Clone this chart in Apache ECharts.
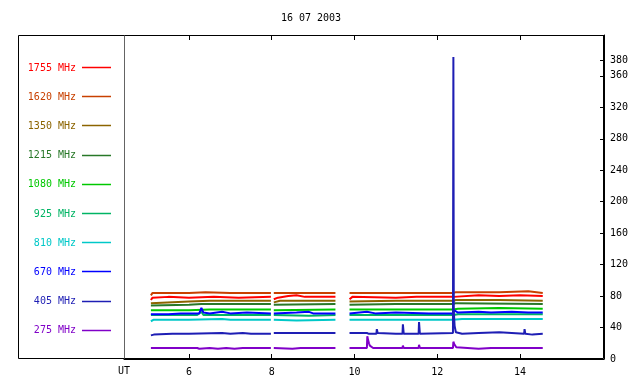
<!DOCTYPE html>
<html>
<head>
<meta charset="utf-8">
<script src="https://cdn.jsdelivr.net/npm/echarts@6/dist/echarts.min.js"></script>
<style>
  html, body { margin: 0; padding: 0; background: #fff; }
  #chart { width: 640px; height: 384px; }
</style>
</head>
<body>
<div id="chart"></div>
<script>
// frequencies, top of legend first
var freqNames = ['1755 MHz', '1620 MHz', '1350 MHz', '1215 MHz', '1080 MHz', '925 MHz', '810 MHz', '670 MHz', '405 MHz', '275 MHz'];
var freqColors = ['#ff0000', '#c84000', '#8c6400', '#287828', '#00c800', '#00b464', '#00c8c8', '#0000ff', '#1e1eb4', '#8000c8'];

var xTicks = [6, 8, 10, 12, 14];
var yTicks = [0, 40, 80, 120, 160, 200, 240, 280, 320, 360, 380];

// [UT hour, flux]; '-' marks data gaps
var f1755 = [[5.08,75],[5.12,78],[5.5,79],[6.0,78],[6.6,79],[7.2,78],[7.98,79],[8.0,'-'],[8.05,76],[8.15,78],[8.4,80],[8.6,81],[8.8,79],[9.54,79],[9.7,'-'],[9.88,76],[9.95,79],[11.0,78],[11.5,79],[12.39,79],[12.4,80],[13.0,81],[13.5,80],[14.0,81],[14.55,80]];
var f1620 = [[5.08,81],[5.12,84],[6.0,84],[6.4,85],[7.0,84],[7.98,84],[8.0,'-'],[8.05,84],[9.54,84],[9.7,'-'],[9.88,84],[11.0,84],[12.39,84],[12.45,85],[13.5,85],[14.2,86],[14.55,84]];
var f1350 = [[5.08,71],[5.12,73],[6.0,73],[6.5,74],[7.98,74],[8.0,'-'],[8.05,72],[8.2,74],[9.54,74],[9.7,'-'],[9.88,73],[11.0,74],[12.39,74],[12.45,75],[13.5,75],[14.55,74]];
var f1215 = [[5.08,68],[5.12,70],[6.0,69],[6.3,70],[7.98,70],[8.0,'-'],[8.05,69],[9.54,70],[9.7,'-'],[9.88,69],[11.0,70],[12.39,70],[12.45,71],[14.55,70]];
var f1080 = [[5.08,62],[6.0,62],[6.5,63],[7.98,63],[8.0,'-'],[8.05,62],[9.54,63],[9.7,'-'],[9.88,63],[11.5,63],[12.39,63],[12.42,65],[12.5,64],[13.5,65],[14.55,64]];
var f925 = [[5.08,56],[6.2,56],[6.3,60],[6.35,56],[7.98,56],[8.0,'-'],[8.05,56],[8.9,55],[9.54,56],[9.7,'-'],[9.88,56],[12.39,56],[12.42,58],[12.5,57],[14.55,57]];
var f810 = [[5.08,48],[5.15,50],[6.0,50],[6.8,51],[7.0,50],[7.98,50],[8.0,'-'],[8.05,50],[8.6,49],[9.54,50],[9.7,'-'],[9.88,50],[12.39,50],[12.42,52],[12.6,51],[14.55,51]];
var f670 = [[5.08,57],[5.5,57],[5.8,58],[6.25,58],[6.3,65],[6.35,59],[6.5,58],[6.8,60],[7.0,58],[7.4,59],[7.98,58],[8.0,'-'],[8.05,58],[8.6,59],[8.9,60],[9.0,58],[9.54,58],[9.7,'-'],[9.88,58],[10.3,60],[10.5,58],[11.0,59],[11.8,58],[12.39,58],[12.41,62],[12.5,59],[13.0,60],[13.3,59],[13.8,60],[14.2,59],[14.55,59]];
var f405 = [[5.08,30],[5.15,31],[5.6,32],[6.0,32],[6.8,33],[7.0,32],[7.3,33],[7.5,32],[7.98,32],[8.0,'-'],[8.05,33],[9.54,33],[9.7,'-'],[9.88,33],[10.3,33],[10.33,35],[10.35,32],[10.53,32],[10.54,38],[10.56,33],[11.0,32],[11.16,32],[11.17,44],[11.19,32],[11.55,32],[11.56,47],[11.58,32],[12.38,33],[12.39,384],[12.4,60],[12.42,42],[12.45,34],[12.6,32],[13.0,33],[13.5,34],[14.1,32],[14.11,38],[14.13,32],[14.3,31],[14.55,32]];
var f275 = [[5.08,14],[6.2,14],[6.25,13],[6.5,14],[6.7,13],[6.9,14],[7.1,13],[7.3,14],[7.98,14],[8.0,'-'],[8.05,14],[8.5,13],[8.7,14],[9.54,14],[9.7,'-'],[9.88,14],[10.3,14],[10.31,29],[10.33,24],[10.35,20],[10.37,17],[10.4,15],[10.45,14],[11.16,14],[11.17,17],[11.19,14],[11.55,14],[11.56,18],[11.58,14],[12.38,14],[12.39,22],[12.41,19],[12.43,17],[12.46,15],[12.5,14],[13.0,13],[13.3,14],[14.55,14]];

var seriesData = [f1755, f1620, f1350, f1215, f1080, f925, f810, f670, f405, f275];

var font = 'DejaVu Sans Mono';

var series = seriesData.map(function (d, i) {
    return {
        name: freqNames[i],
        type: 'line',
        data: d,
        showSymbol: false,
        connectNulls: false,
        color: freqColors[i],
        lineStyle: { width: 2 },
        z: 2 + (i == 8 ? 5 : 0)
    };
});

// hand drawn legend at the left of the frame
var graphics = [
    { type: 'rect', shape: { x: 18.5, y: 35.5, width: 585, height: 323 }, style: { fill: null, stroke: '#000', lineWidth: 1 }, z: 10 },
    { type: 'line', shape: { x1: 124.5, y1: 35.5, x2: 124.5, y2: 358.5 }, style: { stroke: '#646464', lineWidth: 1 }, z: 10 },
    { type: 'text', x: 124, y: 366, style: { text: 'UT', fill: '#000', font: '10px ' + font, textAlign: 'center' } },
    { type: 'text', x: 311, y: 13, style: { text: '16 07 2003', fill: '#000', font: '10px ' + font, textAlign: 'center' } }
];
freqNames.forEach(function (name, i) {
    var y = 67 + i * 29.2;
    graphics.push({ type: 'text', x: 76, y: y + 1, style: { text: name, fill: freqColors[i], font: '10px ' + font, textAlign: 'right', textVerticalAlign: 'middle' } });
    graphics.push({ type: 'line', shape: { x1: 82, y1: Math.round(y) + 0.5, x2: 111, y2: Math.round(y) + 0.5 }, style: { stroke: freqColors[i], lineWidth: 1.5 } });
});

var chart = echarts.init(document.getElementById('chart'));
chart.setOption({
    animation: false,
    backgroundColor: '#fff',
    grid: { left: 124, right: 36, top: 35, bottom: 25 },
    xAxis: [{
        type: 'value',
        position: 'bottom',
        min: 4.43,
        max: 16.03,
        axisLine: { lineStyle: { color: '#000', width: 1 } },
        axisTick: { inside: true, length: 5, customValues: xTicks, lineStyle: { color: '#000' } },
        axisLabel: { customValues: xTicks, color: '#000', fontFamily: font, fontSize: 10, margin: 8 },
        splitLine: { show: false }
    }, {
        type: 'value',
        position: 'top',
        min: 4.43,
        max: 16.03,
        axisLine: { lineStyle: { color: '#000', width: 1 } },
        axisTick: { inside: true, length: 5, customValues: xTicks, lineStyle: { color: '#000' } },
        axisLabel: { show: false },
        splitLine: { show: false }
    }],
    yAxis: {
        type: 'value',
        position: 'right',
        min: 0,
        max: 412,
        axisLine: { show: true, lineStyle: { color: '#000', width: 1 } },
        axisTick: { show: true, inside: true, length: 4, customValues: yTicks, lineStyle: { color: '#000' } },
        axisLabel: { customValues: yTicks, color: '#000', fontFamily: font, fontSize: 10, margin: 6 },
        splitLine: { show: false }
    },
    graphic: graphics,
    series: series
});
</script>
</body>
</html>
